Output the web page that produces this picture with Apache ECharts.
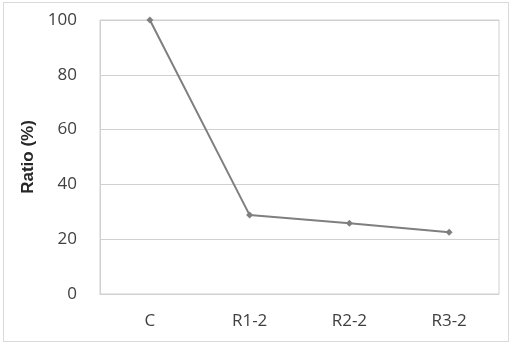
<!DOCTYPE html>
<html>
<head>
<meta charset="utf-8">
<script src="https://cdn.jsdelivr.net/npm/echarts@6/dist/echarts.min.js"></script>
<style>
    html, body { margin: 0; padding: 0; background: #fff; }
    #frame {
        position: absolute; left: 3px; top: 2px; width: 506px; height: 340px;
        border: 1px solid #d9d9d9; box-sizing: border-box;
    }
    #chart { position: absolute; left: 0; top: 0; width: 515px; height: 348px; }
</style>
</head>
<body>
<div id="frame"></div>
<div id="chart"></div>
<script>
// 数据
const categories = ['C', 'R1-2', 'R2-2', 'R3-2'];
const ratioValues = [100, 28.8, 25.8, 22.5];
const yTicks = [0, 20, 40, 60, 80, 100];

const option = {
    animation: false,
    grid: { left: 100, top: 20, right: 16, bottom: 54 },
    xAxis: {
        type: 'category',
        data: categories,
        boundaryGap: true,
        axisLine: { show: true, lineStyle: { color: '#d0d0d0', width: 1 } },
        axisTick: { show: false },
        axisLabel: {
            margin: 19,
            color: '#404040',
            fontFamily: 'Open Sans',
            fontSize: 17
        },
        splitLine: { show: false }
    },
    yAxis: {
        type: 'value',
        min: yTicks[0],
        max: yTicks[yTicks.length - 1],
        interval: 20,
        name: 'Ratio (%)',
        nameLocation: 'middle',
        nameGap: 58,
        nameTextStyle: {
            fontFamily: 'Liberation Sans',
            fontWeight: 'bold',
            fontSize: 17,
            color: '#262626'
        },
        axisLine: { show: true, lineStyle: { color: '#d0d0d0', width: 1 } },
        axisTick: { show: false },
        axisLabel: {
            margin: 23,
            color: '#404040',
            fontFamily: 'Open Sans',
            fontSize: 17
        },
        splitLine: { show: true, lineStyle: { color: '#d0d0d0', width: 1 } }
    },
    series: [{
        type: 'line',
        data: ratioValues,
        symbol: 'diamond',
        symbolSize: 7,
        lineStyle: { color: '#7f7f7f', width: 2 },
        itemStyle: { color: '#7f7f7f' }
    }]
};

const myChart = echarts.init(document.getElementById('chart'));
myChart.setOption(option);
// 画出绘图区边框
const rightX = 515 - 16;
myChart.setOption({
    graphic: [{
        type: 'rect',
        shape: { x: 100, y: 20, width: rightX - 100, height: 348 - 54 - 20 },
        style: { fill: 'none', stroke: '#d0d0d0', lineWidth: 1 },
        silent: true
    }]
});
</script>
</body>
</html>
